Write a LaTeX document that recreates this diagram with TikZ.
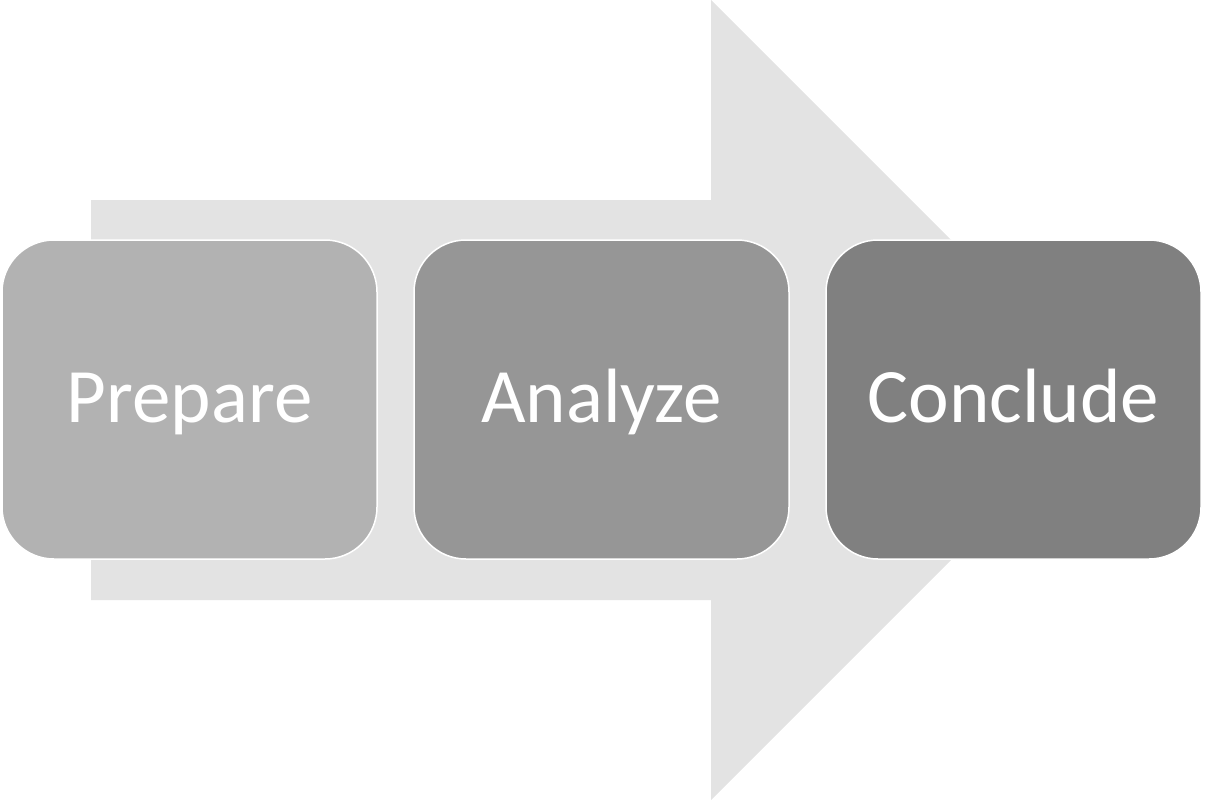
\documentclass[tikz,border=0pt]{standalone}
\usepackage{fontspec}
\setmainfont{Carlito}
\usetikzlibrary{positioning}
\definecolor{arrowgray}{HTML}{E3E3E3}
\definecolor{prepgray}{HTML}{B2B2B2}
\definecolor{anagray}{HTML}{969696}
\definecolor{concgray}{HTML}{808080}
\tikzset{
  stage/.style={draw=white, line width=1.5pt, rounded corners=52pt,
    minimum width=375pt, minimum height=319pt, inner sep=0pt,
    text height=45pt, text depth=0pt,
    text=white, font=\fontsize{77}{90}\selectfont}
}
\begin{document}
\begin{tikzpicture}[x=1pt, y=-1pt, node distance=35.5pt]
  \useasboundingbox (0, 0) rectangle (1206, 800);
  \fill[arrowgray] (91, 200) -- (711, 200) -- (711, 0) -- (1111, 400)
    -- (711, 800) -- (711, 600) -- (91, 600) -- cycle;
  \node [stage, fill=prepgray] (prepare) at (189.5, 399.5) {Prepare};
  \node [stage, fill=anagray, right=of prepare] (analyze) {Analyze};
  \node [stage, fill=concgray, right=of analyze] (conclude) {Conclude};
\end{tikzpicture}
\end{document}
